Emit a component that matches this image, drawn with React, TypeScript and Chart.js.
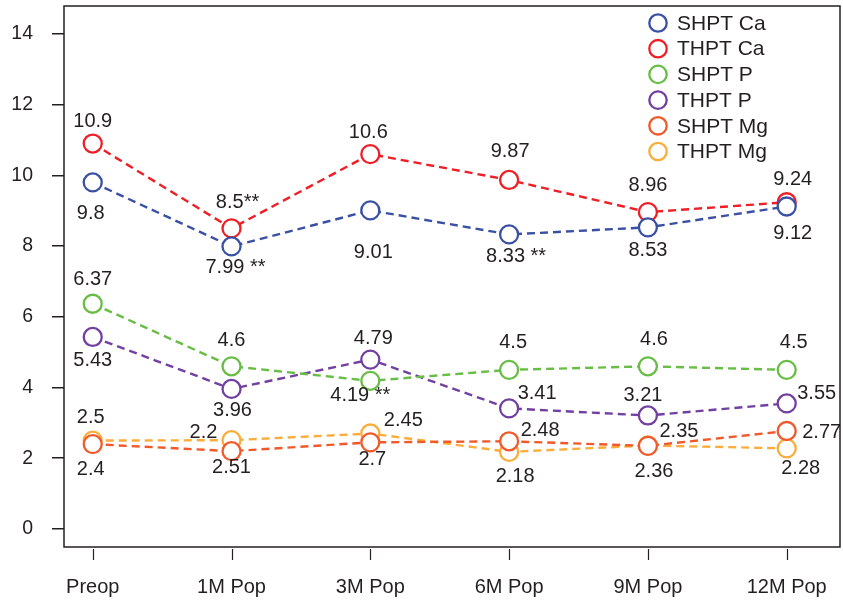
import React, { useEffect, useRef } from "react";
import { Chart, registerables } from "chart.js";

Chart.register(...registerables);

// ---------- data ----------
const categories = ["Preop", "1M Pop", "3M Pop", "6M Pop", "9M Pop", "12M Pop"];
const xTickValues = [0, 1, 2, 3, 4, 5];
const yTickValues = [0, 2, 4, 6, 8, 10, 12, 14];
const seriesNames = ["SHPT Ca", "THPT Ca", "SHPT P", "THPT P", "SHPT Mg", "THPT Mg"];

const shptCa = [9.8, 7.99, 9.01, 8.33, 8.53, 9.12];
const thptCa = [10.9, 8.5, 10.6, 9.87, 8.96, 9.24];
const shptP = [6.37, 4.6, 4.19, 4.5, 4.6, 4.5];
const thptP = [5.43, 3.96, 4.79, 3.41, 3.21, 3.55];
const shptMg = [2.4, 2.2, 2.45, 2.48, 2.35, 2.77];
const thptMg = [2.5, 2.51, 2.7, 2.18, 2.36, 2.28];

const shptCaLabels = ["9.8", "7.99 **", "9.01", "8.33 **", "8.53", "9.12"];
const thptCaLabels = ["10.9", "8.5**", "10.6", "9.87", "8.96", "9.24"];
const shptPLabels = ["6.37", "4.6", "4.19 **", "4.5", "4.6", "4.5"];
const thptPLabels = ["5.43", "3.96", "4.79", "3.41", "3.21", "3.55"];
const shptMgLabels = ["2.4", "2.2", "2.45", "2.48", "2.35", "2.77"];
const thptMgLabels = ["2.5", "2.51", "2.7", "2.18", "2.36", "2.28"];

// ---------- styles / layout ----------
const colors = ["#3a51a3", "#ee1f26", "#68bd45", "#7240a0", "#f1592a", "#fbad3c"];
const ink = "#231f20";
const FONT = '"Liberation Sans", Arial, sans-serif';

// label offsets [dx, dy] relative to each point (pixels)
const labelOffsets: number[][][] = [
  [[-2, 31], [4, 21], [3, 42], [7, 22], [0, 23], [6, 27]],
  [[0, -22], [6, -26], [-2, -22], [1, -28], [0, -27], [6, -23]],
  [[0, -24], [0, -26], [-10, 15], [4, -27], [6, -27], [7, -27]],
  [[0, 24], [1, 22], [3, -21], [28, -15], [-5, -20], [30, -10]],
  [[-2, 25], [-28, -19], [33, -22], [31, -11], [31, -14], [35, 1]],
  [[-2, -23], [0, 27], [2, 26], [6, 25], [6, 26], [14, 20]],
];

const allValues = [shptCa, thptCa, shptP, thptP, shptMg, thptMg];
const allLabels = [shptCaLabels, thptCaLabels, shptPLabels, thptPLabels, shptMgLabels, thptMgLabels];

const zeroPad = (scale: any) => {
  scale.paddingLeft = 0;
  scale.paddingRight = 0;
  scale.paddingTop = 0;
  scale.paddingBottom = 0;
};

const framePlugin = {
  id: "frame",
  beforeDatasetsDraw(chart: any) {
    const { ctx, chartArea } = chart;
    ctx.save();
    ctx.strokeStyle = ink;
    ctx.lineWidth = 1.5;
    ctx.strokeRect(chartArea.left, chartArea.top, chartArea.right - chartArea.left, chartArea.bottom - chartArea.top);
    const xs = chart.scales.x;
    ctx.beginPath();
    xTickValues.forEach((v) => {
      const px = Math.round(xs.getPixelForValue(v)) + 0.5;
      ctx.moveTo(px, chartArea.bottom + 2);
      ctx.lineTo(px, chartArea.bottom + 13);
    });
    ctx.lineWidth = 1.2;
    ctx.stroke();
    ctx.restore();
  },
};

const labelPlugin = {
  id: "pointLabels",
  afterDatasetsDraw(chart: any) {
    const { ctx } = chart;
    ctx.save();
    ctx.fillStyle = ink;
    ctx.font = `20px ${FONT}`;
    ctx.textAlign = "center";
    ctx.textBaseline = "middle";
    allLabels.forEach((labels, d) => {
      const meta = chart.getDatasetMeta(d);
      meta.data.forEach((el: any, i: number) => {
        const [dx, dy] = labelOffsets[d][i];
        ctx.fillText(labels[i], el.x + dx, el.y + dy);
      });
    });
    ctx.restore();
  },
};

const legendPlugin = {
  id: "customLegend",
  afterDraw(chart: any) {
    const { ctx } = chart;
    ctx.save();
    ctx.font = `21px ${FONT}`;
    ctx.textBaseline = "middle";
    ctx.textAlign = "left";
    seriesNames.forEach((name, i) => {
      const cy = 23 + i * 25.7;
      ctx.beginPath();
      ctx.arc(658, cy, 8.7, 0, Math.PI * 2);
      ctx.fillStyle = "#ffffff";
      ctx.fill();
      ctx.lineWidth = 2.3;
      ctx.strokeStyle = colors[i];
      ctx.stroke();
      ctx.fillStyle = ink;
      ctx.fillText(name, 677, cy + 1);
    });
    ctx.restore();
  },
};

export default function App() {
  const ref = useRef<HTMLCanvasElement>(null);

  useEffect(() => {
    if (!ref.current) return;
    const datasets = allValues.map((vals, d) => ({
      label: seriesNames[d],
      data: vals.map((v, i) => ({ x: xTickValues[i], y: v })),
      borderColor: colors[d],
      backgroundColor: "#ffffff",
      pointBackgroundColor: "#ffffff",
      pointBorderColor: colors[d],
      pointRadius: 9,
      pointBorderWidth: 2.3,
      borderWidth: 2.4,
      borderDash: [8, 5],
      fill: false,
      tension: 0,
      clip: false as any,
    }));

    const chart = new Chart(ref.current, {
      type: "line",
      data: { datasets },
      plugins: [framePlugin, labelPlugin, legendPlugin],
      options: {
        responsive: false,
        animation: false,
        events: [],
        layout: { autoPadding: false, padding: { top: 6, right: 3, left: 0, bottom: 0 } },
        plugins: { legend: { display: false }, tooltip: { enabled: false } },
        scales: {
          x: {
            type: "linear",
            min: -0.207,
            max: 5.384,
            afterBuildTicks: (scale: any) => {
              scale.ticks = xTickValues.map((v) => ({ value: v }));
            },
            afterFit: (scale: any) => {
              scale.height = 54;
              zeroPad(scale);
            },
            grid: { display: true, drawOnChartArea: false, drawTicks: false },
            border: { display: false },
            ticks: {
              autoSkip: false,
              maxRotation: 0,
              padding: 28,
              color: ink,
              font: { size: 20, family: FONT },
              callback: (v: any) => categories[Number(v)] ?? "",
            },
          },
          y: {
            type: "linear",
            min: -0.51,
            max: 14.79,
            afterBuildTicks: (scale: any) => {
              scale.ticks = yTickValues.map((v) => ({ value: v }));
            },
            afterFit: (scale: any) => {
              scale.width = 64;
              zeroPad(scale);
            },
            grid: { display: true, drawOnChartArea: false, drawTicks: true, tickLength: 12, color: ink, lineWidth: 1.5 },
            border: { display: false },
            ticks: {
              padding: 19,
              color: ink,
              font: { size: 19.5, family: FONT },
              callback: (v: any) => String(v),
            },
          },
        },
      } as any,
    });
    return () => chart.destroy();
  }, []);

  return (
    <div style={{ position: "fixed", left: 0, top: 0, width: 843, height: 601, background: "#fff" }}>
      <canvas ref={ref} width={843} height={601} style={{ display: "block" }} />
    </div>
  );
}
